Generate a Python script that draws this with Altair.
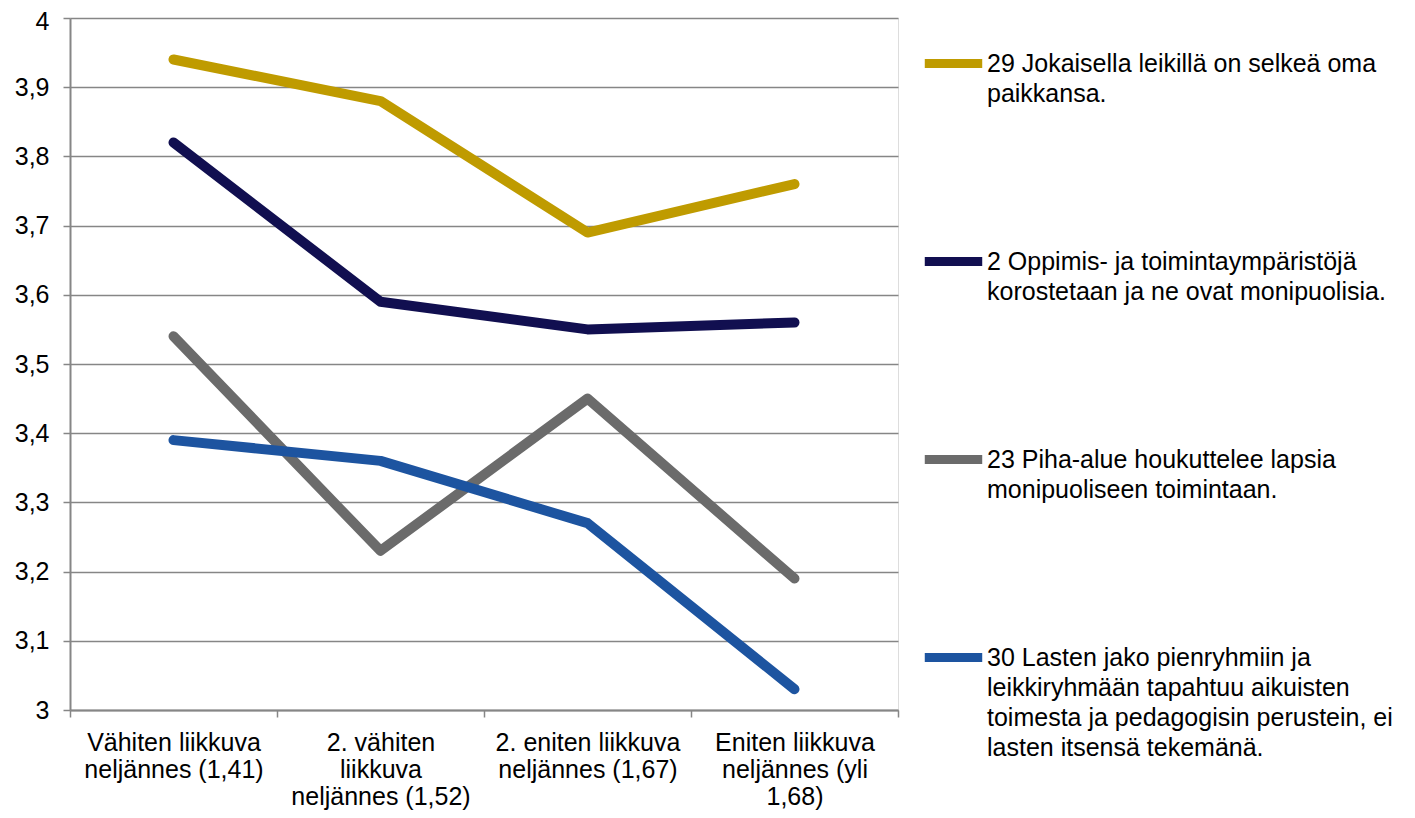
import json
import altair as alt
import pandas as pd

categories = [
    ["Vähiten liikkuva", "neljännes (1,41)"],
    ["2. vähiten", "liikkuva", "neljännes (1,52)"],
    ["2. eniten liikkuva", "neljännes (1,67)"],
    ["Eniten liikkuva", "neljännes (yli", "1,68)"],
]
series_names = [
    "29 Jokaisella leikillä on selkeä oma|paikkansa.",
    "2 Oppimis- ja toimintaympäristöjä|korostetaan ja ne ovat monipuolisia.",
    "23 Piha-alue houkuttelee lapsia|monipuoliseen toimintaan.",
    "30 Lasten jako pienryhmiin ja|leikkiryhmään tapahtuu aikuisten|toimesta ja pedagogisin perustein, ei|lasten itsensä tekemänä.",
]
series_values = [
    [3.94, 3.88, 3.69, 3.76],
    [3.82, 3.59, 3.55, 3.56],
    [3.54, 3.23, 3.45, 3.19],
    [3.39, 3.36, 3.27, 3.03],
]
colors = ["#BF9B00", "#110F50", "#6B6B6B", "#1D54A0"]
y_ticks = [3.0, 3.1, 3.2, 3.3, 3.4, 3.5, 3.6, 3.7, 3.8, 3.9, 4.0]

rows = []
for s, vals in zip(series_names, series_values):
    for i, v in enumerate(vals):
        rows.append({"series": s, "idx": i, "value": v})
df = pd.DataFrame(rows)

FONT = "Liberation Sans"
FS = 25
label_lines = json.dumps(categories, ensure_ascii=False)
centers = list(range(len(categories)))
bounds = [i - 0.5 for i in range(len(categories) + 1)]

xscale = alt.Scale(domain=[-0.5, len(categories) - 0.5], nice=False, zero=False)
yscale = alt.Scale(domain=[3, 4], nice=False, zero=False)

lines = alt.Chart(df).mark_line(strokeWidth=10, strokeCap="round", strokeJoin="round").encode(
    x=alt.X("idx:Q", scale=xscale, title=None,
            axis=alt.Axis(orient="bottom", values=centers, ticks=False, domain=False, grid=False,
                          labelExpr=f"{label_lines}[datum.value]", labelFont=FONT, labelFontSize=FS,
                          labelColor="#000000", labelPadding=20, labelLineHeight=27, labelLimit=400,
                          labelAlign="center", labelBaseline="top", labelFlush=False, labelOverlap=False)),
    y=alt.Y("value:Q", scale=yscale, title=None,
            axis=alt.Axis(values=y_ticks, labelExpr="replace(format(datum.value, '.1~f'), '.', ',')",
                          labelFont=FONT, labelFontSize=FS, labelColor="#000000", labelPadding=14,
                          labelOffset={"condition": {"test": "datum.value >= 4", "value": 3}, "value": 0},
                          tickSize=7, tickColor="#868686", tickWidth=1.5,
                          domainColor="#868686", domainWidth=2,
                          grid=True, gridColor="#868686", gridWidth=1.5)),
    color=alt.Color("series:N", sort=series_names,
                    scale=alt.Scale(domain=series_names, range=colors),
                    legend=alt.Legend(title=None, orient="none", legendX=850, legendY=12,
                                      symbolType="stroke", symbolSize=3300, symbolStrokeWidth=9,
                                      labelExpr="split(datum.label, '|')", labelFont=FONT,
                                      labelFontSize=FS, labelColor="#000000", labelLimit=600,
                                      labelOffset=0, labelBaseline="middle", rowPadding=121)),
)

ticks_layer = alt.Chart(df).mark_line(opacity=0).encode(
    x=alt.X("idx:Q", scale=xscale, title=None,
            axis=alt.Axis(orient="bottom", values=bounds, labels=False, grid=False,
                          tickSize=7, tickColor="#868686", tickWidth=1.5,
                          domainColor="#868686", domainWidth=2)),
    y=alt.Y("value:Q", scale=yscale),
)

chart = alt.layer(ticks_layer, lines).resolve_axis(x="independent").properties(
    width=828, height=692,
    autosize=alt.AutoSizeParams(type="none"),
    padding={"left": 62, "top": 10, "right": 509, "bottom": 100},
    background="white",
).configure_view(stroke=None).configure(style={"guide-label": {"lineHeight": 30}})

chart.save("out.html", embed_options={"renderer": "svg", "actions": False})
